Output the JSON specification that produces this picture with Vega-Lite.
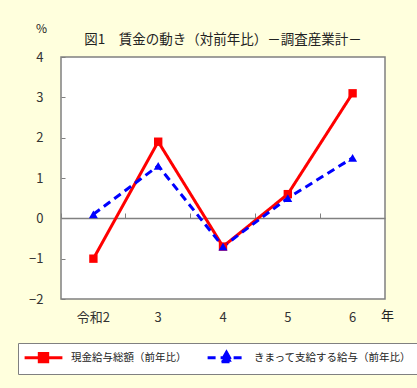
{
  "$schema": "https://vega.github.io/schema/vega-lite/v6.json",
  "autosize": "none",
  "width": 324,
  "height": 242,
  "padding": {"left": 61, "top": 57, "right": 32, "bottom": 89},
  "background": "#FFFFDD",
  "config": {
    "font": "Noto Sans CJK JP",
    "view": {"stroke": "#808080", "strokeWidth": 1.5, "fill": "#FFFFFF"}
  },
  "title": {
    "text": "図1　賃金の動き（対前年比）－調査産業計－",
    "fontSize": 13.5,
    "fontWeight": "normal",
    "color": "#222222",
    "anchor": "middle",
    "offset": 14,
    "dy": 38
  },
  "data": {
    "values": [
      {"year": "令和2", "series": "現金給与総額（前年比）", "value": -1.0},
      {"year": "3", "series": "現金給与総額（前年比）", "value": 1.9},
      {"year": "4", "series": "現金給与総額（前年比）", "value": -0.7},
      {"year": "5", "series": "現金給与総額（前年比）", "value": 0.6},
      {"year": "6", "series": "現金給与総額（前年比）", "value": 3.1},
      {"year": "令和2", "series": "きまって支給する給与（前年比）", "value": 0.1},
      {"year": "3", "series": "きまって支給する給与（前年比）", "value": 1.3},
      {"year": "4", "series": "きまって支給する給与（前年比）", "value": -0.7},
      {"year": "5", "series": "きまって支給する給与（前年比）", "value": 0.5},
      {"year": "6", "series": "きまって支給する給与（前年比）", "value": 1.5}
    ]
  },
  "encoding": {
    "y": {
      "field": "value",
      "type": "quantitative",
      "scale": {"domain": [-2, 4], "nice": false, "zero": false},
      "axis": {
        "title": "%",
        "titleAngle": 0,
        "titleX": -20,
        "titleY": -29,
        "titleAlign": "center",
        "titleBaseline": "middle",
        "titleFontSize": 12,
        "titleFontWeight": "normal",
        "titleColor": "#222222",
        "values": [-2, -1, 0, 1, 2, 3, 4],
        "grid": false,
        "domain": false,
        "tickSize": -4,
        "tickColor": "#808080",
        "labelPadding": 22,
        "labelFontSize": 13,
        "labelColor": "#333333"
      }
    }
  },
  "layer": [
    {
      "mark": {"type": "line", "strokeWidth": 3},
      "encoding": {
        "x": {
          "field": "year",
          "type": "ordinal",
          "sort": ["令和2", "3", "4", "5", "6"],
          "bandPosition": 0.5,
          "scale": {"type": "band", "paddingInner": 0, "paddingOuter": 0},
          "axis": {
            "title": "年",
            "titleX": 326,
            "titleY": 16,
            "titleAlign": "center",
            "titleBaseline": "middle",
            "titleFontSize": 13,
            "titleFontWeight": "normal",
            "titleColor": "#222222",
            "labelAngle": 0,
            "ticks": false,
            "domain": false,
            "labelPadding": 12,
            "labelFontSize": 13,
            "labelColor": "#333333"
          }
        },
        "color": {
          "field": "series",
          "type": "nominal",
          "scale": {
            "domain": ["現金給与総額（前年比）", "きまって支給する給与（前年比）"],
            "range": ["#FF0000", "#0000FF"]
          },
          "legend": {
            "title": null,
            "orient": "none",
            "legendX": -43,
            "legendY": 286,
            "direction": "horizontal",
            "columns": 2,
            "columnPadding": 14,
            "padding": 6,
            "fillColor": "#FFFFFF",
            "strokeColor": "#808080",
            "labelFontSize": 10.5,
            "labelColor": "#222222",
            "labelLimit": 300,
            "symbolSize": 196,
            "symbolOffset": 11,
            "labelOffset": 19,
            "symbolStrokeWidth": 3,
            "encode": {
              "symbols": {
                "update": {
                  "shape": {"signal": "datum.value === '現金給与総額（前年比）' ? 'M-2.7,0H2.7M-0.6,-0.6H0.6V0.6H-0.6Z' : 'M-2.7,0H2.7M0,-0.8L0.75,0.55H-0.75Z'"},
                  "fill": {"signal": "datum.value === '現金給与総額（前年比）' ? '#FF0000' : '#0000FF'"},
                  "strokeDash": {"signal": "datum.value === '現金給与総額（前年比）' ? [1, 0] : [6, 4]"},
                  "strokeWidth": {"value": 3}
                }
              }
            }
          }
        },
        "strokeDash": {
          "field": "series",
          "type": "nominal",
          "scale": {
            "domain": ["現金給与総額（前年比）", "きまって支給する給与（前年比）"],
            "range": [[1, 0], [8, 5]]
          },
          "legend": null
        }
      }
    },
    {
      "transform": [{"filter": "datum.series === '現金給与総額（前年比）'"}],
      "mark": {"type": "point", "filled": true, "opacity": 1, "shape": "square", "color": "#FF0000", "size": 70},
      "encoding": {
        "x": {
          "field": "year",
          "type": "ordinal",
          "sort": ["令和2", "3", "4", "5", "6"],
          "bandPosition": 0.5,
          "axis": {
            "title": null,
            "orient": "bottom",
            "offset": -81,
            "labels": false,
            "domain": true,
            "domainColor": "#808080",
            "domainWidth": 1.5,
            "ticks": true,
            "tickSize": -5,
            "tickColor": "#808080",
            "bandPosition": 0
          }
        }
      }
    },
    {
      "transform": [{"filter": "datum.series === 'きまって支給する給与（前年比）'"}],
      "mark": {"type": "point", "filled": true, "opacity": 1, "shape": "triangle-up", "color": "#0000FF", "size": 80},
      "encoding": {
        "x": {
          "field": "year",
          "type": "ordinal",
          "sort": ["令和2", "3", "4", "5", "6"],
          "bandPosition": 0.5,
          "axis": null
        }
      }
    }
  ],
  "resolve": {"axis": {"x": "independent"}}
}
